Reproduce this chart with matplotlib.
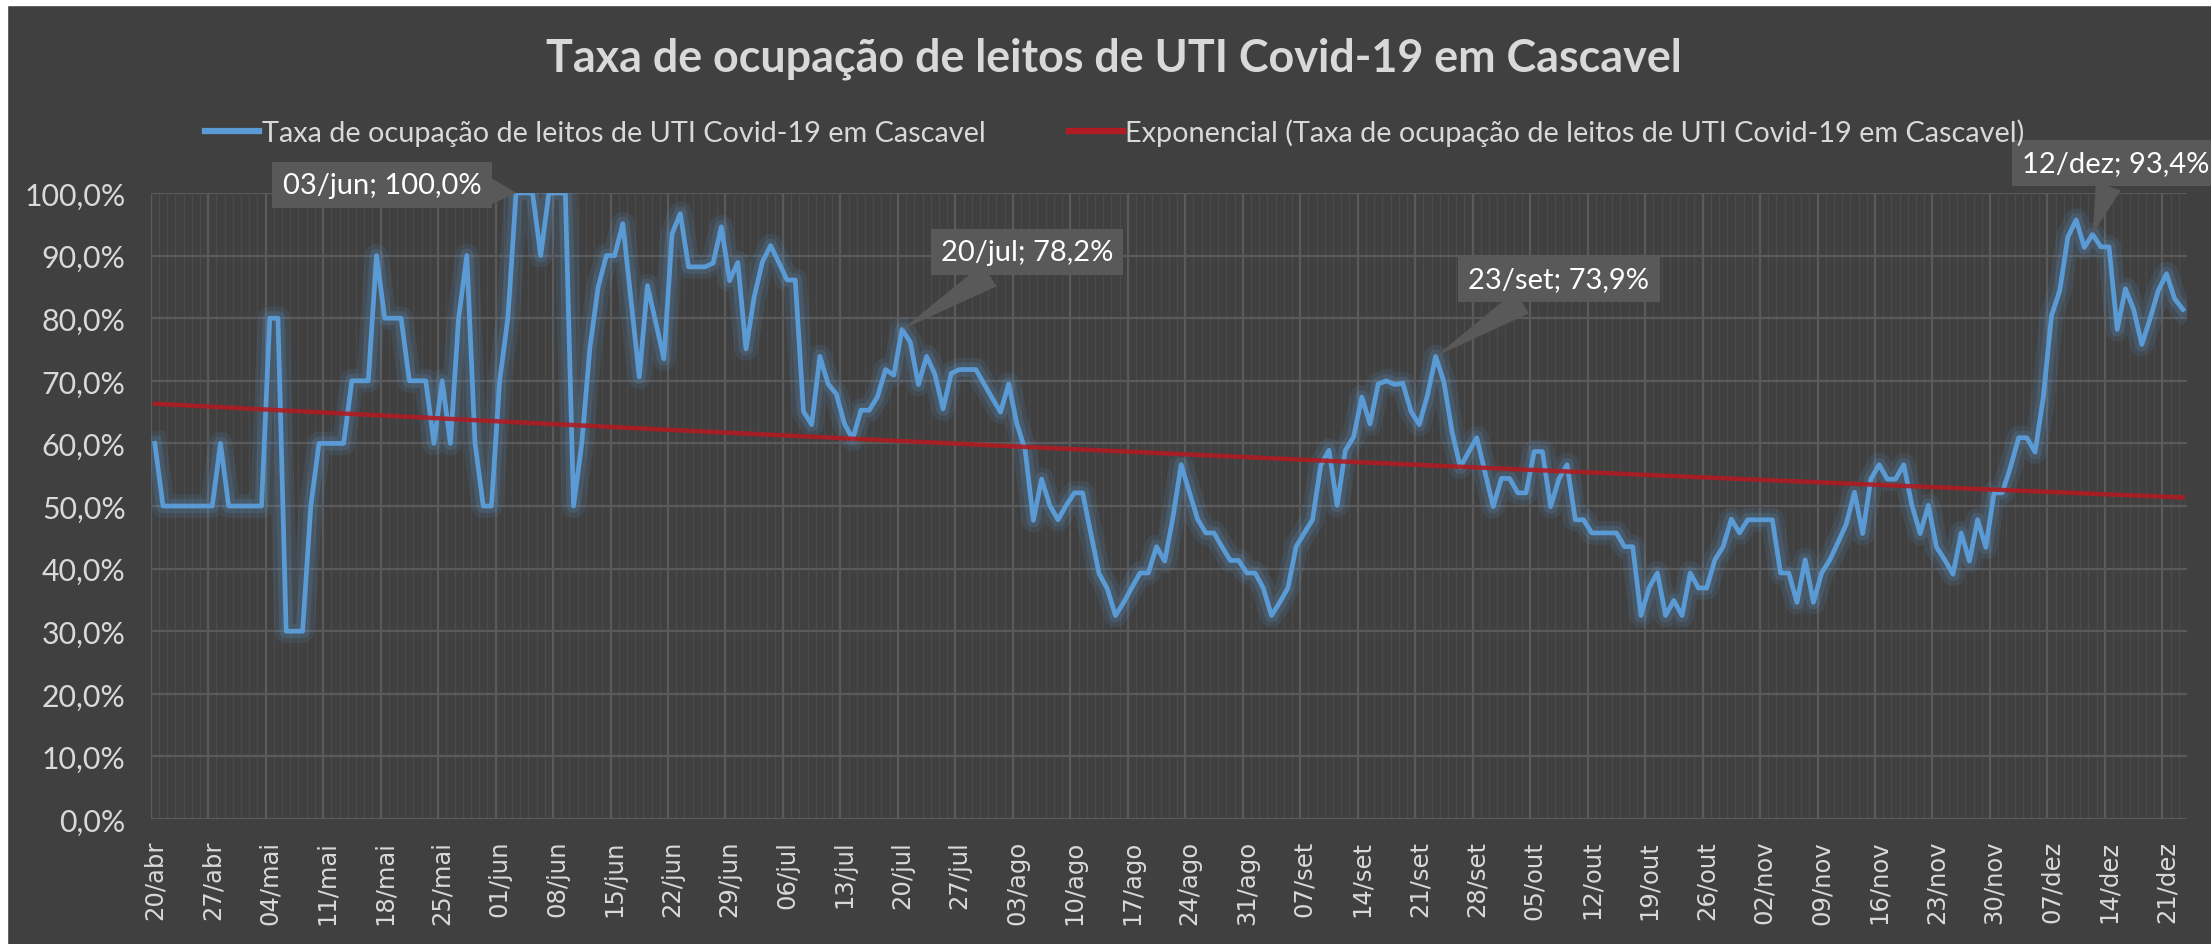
import numpy as np
import pandas as pd
import matplotlib
matplotlib.use("Agg")
import matplotlib.pyplot as plt
from matplotlib.lines import Line2D
from matplotlib.patches import Rectangle

# daily ICU occupancy (%) in Cascavel, 2020, one list per month
start_date = "2020-04-20"
abr = [60, 50, 50, 50, 50, 50, 50, 50, 60, 50, 50]
mai = [50, 50, 50, 80, 80, 30, 30, 30, 50, 60, 60, 60, 60, 70, 70, 70,
       90, 80, 80, 80, 70, 70, 70, 60, 70, 60, 80, 90, 60, 50, 50]
jun = [70, 80, 100, 100, 100, 90, 100, 100, 100, 50, 60, 75.4, 85.0, 90, 90,
       95.1, 82.9, 70.6, 85.2, 79.4, 73.5, 93.5, 96.7, 88.2, 88.2, 88.2,
       88.8, 94.6, 86.0, 88.9]
jul = [75.1, 83.4, 89.0, 91.6, 88.9, 86.1, 86.1, 65.1, 63.0, 73.9, 69.5,
       67.9, 63.1, 60.7, 65.3, 65.3, 67.4, 71.8, 70.9, 78.2, 76.2, 69.4,
       73.9, 71.1, 65.5, 71.2, 71.8, 71.8, 71.8, 69.5, 67.2]
ago = [65.0, 69.5, 63.1, 58.9, 47.7, 54.3, 50.1, 47.8, 50.1, 52.1, 52.1,
       45.6, 39.2, 36.8, 32.5, 34.6, 37.0, 39.3, 39.3, 43.5, 41.2, 48.2,
       56.6, 52.2, 47.9, 45.7, 45.7, 43.4, 41.3, 41.3, 39.3]
set_ = [39.3, 36.9, 32.5, 34.6, 36.9, 43.5, 45.7, 47.8, 56.5, 58.9, 50.1,
        58.9, 61.0, 67.4, 63.1, 69.5, 70.0, 69.4, 69.6, 65.1, 63.0, 67.7,
        73.9, 69.8, 61.8, 56.2, 58.6, 60.9, 55.4, 49.9]
out = [54.4, 54.4, 52.1, 52.1, 58.7, 58.7, 49.9, 54.3, 56.6, 47.8, 47.8,
       45.7, 45.7, 45.7, 45.7, 43.5, 43.5, 32.5, 37.0, 39.3, 32.5, 34.9,
       32.5, 39.3, 36.9, 36.9, 41.4, 43.5, 47.9, 45.7, 47.8]
nov = [47.8, 47.8, 47.8, 39.3, 39.3, 34.6, 41.4, 34.6, 39.3, 41.4, 44.2,
       47.1, 52.2, 45.6, 54.3, 56.6, 54.3, 54.3, 56.6, 50.1, 45.6, 50.1,
       43.4, 41.4, 39.1, 45.7, 41.2, 47.8, 43.4, 52.1]
dez = [52.1, 56.2, 60.9, 60.9, 58.6, 67.4, 80.4, 84.4, 93.0, 95.7, 91.3,
       93.4, 91.4, 91.4, 78.2, 84.7, 81.4, 75.8, 79.9, 84.4, 87.1, 83.1, 81.4]

month_abbr = {4: "abr", 5: "mai", 6: "jun", 7: "jul", 8: "ago",
              9: "set", 10: "out", 11: "nov", 12: "dez"}
highlights = ["03/jun", "20/jul", "23/set", "12/dez"]

title = "Taxa de ocupação de leitos de UTI Covid-19 em Cascavel"
series_name = "Taxa de ocupação de leitos de UTI Covid-19 em Cascavel"
trend_name = "Exponencial (Taxa de ocupação de leitos de UTI Covid-19 em Cascavel)"

values = np.array(abr + mai + jun + jul + ago + set_ + out + nov + dez) / 100
dates = pd.date_range(start_date, periods=len(values), freq="D")
labels = [f"{d.day:02d}/{month_abbr[d.month]}" for d in dates]
x = np.arange(len(values))

# exponential trendline, fitted the way Excel does (least squares on ln y)
b, ln_a = np.polyfit(x + 1, np.log(values), 1)
trend = np.exp(ln_a + b * (x + 1))

BG = "#404040"
GRID = "#5a5a5a"
TXT = "#d9d9d9"
BLUE = "#5b9bd5"
RED = "#b01c22"
FONT = ["Lato", "DejaVu Sans"]
plt.rcParams["font.family"] = FONT

W, H = 2211, 945
fig = plt.figure(figsize=(W / 100, H / 100), dpi=100, facecolor=BG)
left, right, top, bottom = 150.7, 2187, 194, 820
ax = fig.add_axes([left / W, 1 - bottom / H, (right - left) / W, (bottom - top) / H])
ax.set_facecolor(BG)

# gridlines: daily (faint), weekly and horizontal
ax.vlines(np.arange(-0.5, len(x) + 0.5, 1), 0, 1, color="#4b4b4b", lw=0.9, zorder=0)
ax.vlines(np.arange(-0.5, len(x) + 0.5, 7), 0, 1, color=GRID, lw=1.6, zorder=0.5)
ax.set_yticks(np.arange(0, 1.01, 0.1))
ax.yaxis.grid(True, color=GRID, lw=1.6, zorder=0.5)
ax.set_axisbelow(True)

# blue series with a soft glow
ax.plot(x, values, color=BLUE, lw=17, alpha=0.12, zorder=2)
ax.plot(x, values, color=BLUE, lw=10, alpha=0.18, zorder=2)
ax.plot(x, values, color=BLUE, lw=3.4, zorder=3)
ax.plot(x, trend, color=RED, lw=3.2, alpha=0.9, zorder=4)

ax.set_xlim(-0.5, len(x) - 0.5)
ax.set_ylim(0, 1)
for s in ax.spines.values():
    s.set_visible(False)

ax.set_yticklabels([f"{v * 100:.1f}%".replace(".", ",") for v in ax.get_yticks()],
                   fontsize=21.8, color=TXT)
ax.set_xticks(x[::7])
ax.set_xticklabels(labels[::7], rotation=90, fontsize=17.5, color=TXT,
                   family="DejaVu Sans")
ax.tick_params(axis="both", length=0)
ax.tick_params(axis="y", pad=18)
ax.tick_params(axis="x", pad=15)

# data callouts
box_pos = {"03/jun": (382, 186), "20/jul": (1027, 253),
           "23/set": (1559, 280), "12/dez": (2116, 164)}
for h in highlights:
    i = labels.index(h)
    txt = f"{h}; {values[i] * 100:.1f}%".replace(".", ",")
    cx, cy = box_pos[h]
    ax.annotate(txt, xy=(i, values[i]), xycoords="data",
                xytext=(cx, H - cy), textcoords="figure pixels",
                ha="center", va="center", fontsize=21, color="white",
                bbox=dict(boxstyle="square,pad=0.35", fc="#595959", ec="none"),
                arrowprops=dict(arrowstyle="wedge,tail_width=0.9,shrink_factor=0.5",
                                fc="#595959", ec="none", shrinkA=0, shrinkB=0),
                zorder=6, annotation_clip=False)

fig.text(1114 / W, 1 - 59 / H, title, ha="center", va="center",
         fontsize=32.3, weight="bold", color=TXT)

handles = [Line2D([], [], color=BLUE, lw=4.5), Line2D([], [], color=RED, lw=4.5)]
fig.legend(handles, [series_name, trend_name], loc="center",
           bbox_to_anchor=(1115 / W, 1 - 133 / H), ncol=2, frameon=False,
           fontsize=20.8, labelcolor=TXT, handlelength=1.85, handletextpad=0.1,
           columnspacing=2.9)

# white edge of the original screenshot
fig.patches.append(Rectangle((0, 0), 7 / W, 1, transform=fig.transFigure,
                             color="white", zorder=10))
fig.patches.append(Rectangle((0, 1 - 6 / H), 1, 6 / H, transform=fig.transFigure,
                             color="white", zorder=10))

fig.savefig("out.png", dpi=100, facecolor=BG)
